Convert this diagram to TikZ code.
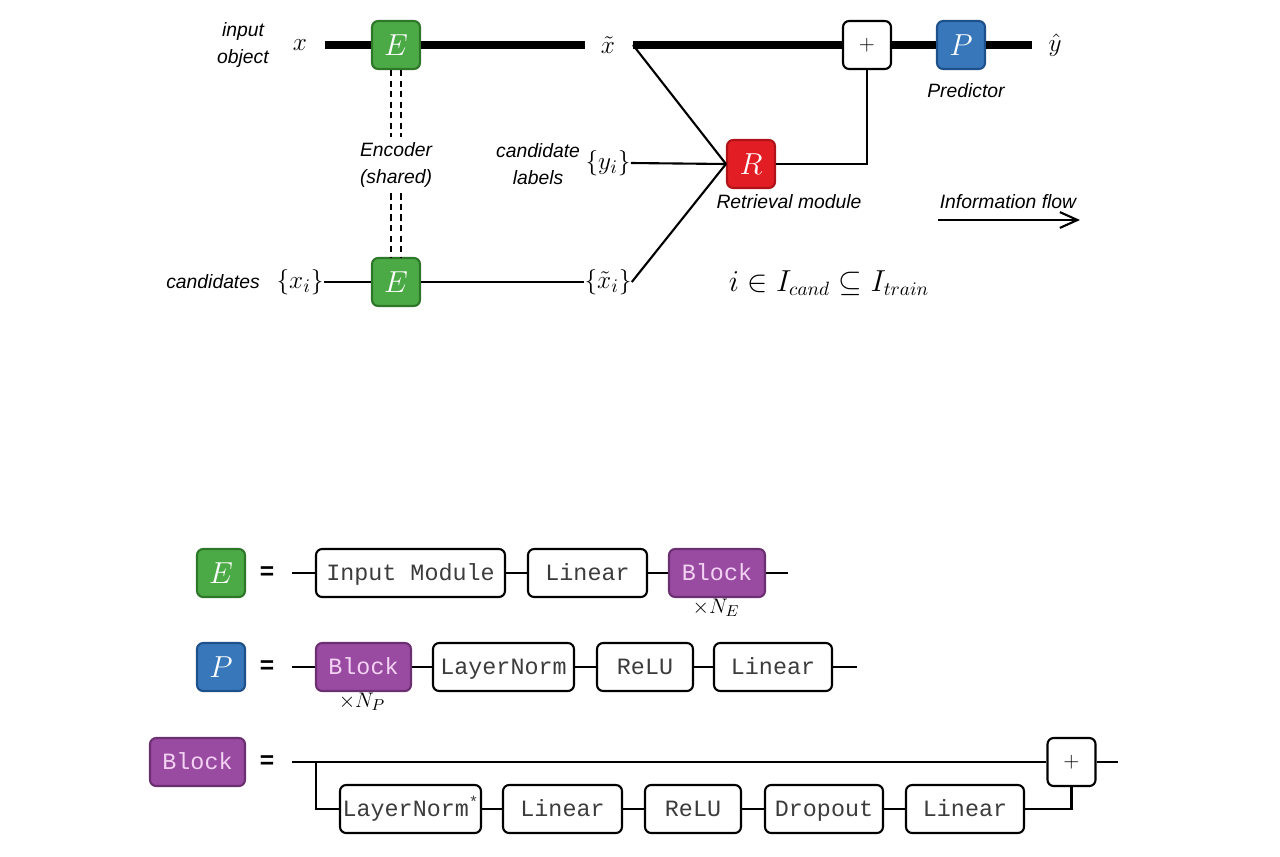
\documentclass[tikz,border=0pt]{standalone}
\usepackage{fontspec}
\setmainfont{Liberation Sans}
\setmonofont{Liberation Mono}
\usetikzlibrary{positioning,arrows.meta}
\definecolor{encgreen}{RGB}{76,170,70}
\definecolor{encgreenline}{RGB}{46,118,40}
\definecolor{predblue}{RGB}{56,120,186}
\definecolor{predblueline}{RGB}{30,80,140}
\definecolor{retred}{RGB}{226,30,36}
\definecolor{retredline}{RGB}{176,20,24}
\definecolor{blockpurple}{RGB}{152,75,160}
\definecolor{blockpurpleline}{RGB}{108,48,114}
\definecolor{blocktext}{RGB}{244,210,244}
\definecolor{monogray}{RGB}{60,60,60}

\begin{document}
\begin{tikzpicture}[
  x=0.02cm, y=-0.02cm,
  box/.style={rectangle, rounded corners=3.5pt, line width=1.2pt,
              minimum height=0.96cm, inner sep=0pt},
  letterbox/.style={box, minimum width=0.96cm, text=white, font=\fontsize{16}{18}\selectfont},
  enc/.style={letterbox, draw=encgreenline, fill=encgreen},
  pred/.style={letterbox, draw=predblueline, fill=predblue},
  ret/.style={letterbox, draw=retredline, fill=retred},
  plusbox/.style={box, draw=black, fill=white, minimum width=0.96cm, font=\fontsize{13}{15}\selectfont},
  layer/.style={box, draw=black, fill=white, text=monogray, text height=8pt, text depth=0pt,
                font=\fontsize{13.3}{15}\ttfamily},
  blk/.style={box, draw=blockpurpleline, fill=blockpurple, text=blocktext, text height=8pt, text depth=0pt,
              font=\fontsize{13.3}{15}\ttfamily},
  lbl/.style={font=\fontsize{11}{15}\itshape, align=center},
  sym/.style={font=\fontsize{15}{17}\selectfont, inner sep=0pt},
  eq/.style={font=\fontsize{14}{16}\bfseries},
  main/.style={line width=4pt},
  wire/.style={line width=1.2pt},
  shared/.style={line width=1.2pt, dash pattern=on 3.5pt off 2.5pt}
]
\useasboundingbox (0,0) rectangle (1280,856);

% top: retrieval model
\node[lbl] (inlbl) at (243,45) {input\\object};
\node[sym] (x) at (300,45) {$x$};
\node[enc] (enctop) at (396,45) {$E$};
\node[sym] (xt) at (608,45) {$\tilde{x}$};
\node[plusbox] (add) at (867,45) {$+$};
\node[pred] (pred) at (961,45) {$P$};
\node[sym] (yhat) at (1055,45) {$\hat{y}$};
\node[lbl] (predlbl) at (966,91) {Predictor};

\node[lbl] (shlbl) at (396,165) {Encoder\\(shared)};
\node[lbl] (cylbl) at (538,164) {candidate\\labels};
\node[sym] (yi) at (608,163) {$\{y_i\}$};
\node[ret] (ret) at (751,164) {$R$};
\node[lbl] (retlbl) at (789,202) {Retrieval module};

\node[lbl, anchor=east] (candlbl) at (266,282) {candidates};
\node[sym] (xi) at (300,282) {$\{x_i\}$};
\node[enc] (encbot) at (396,282) {$E$};
\node[sym] (xti) at (608,282) {$\{\tilde{x}_i\}$};
\node[font=\fontsize{16}{18}\selectfont] (idx) at (829,283) {$i \in I_{cand} \subseteq I_{train}$};

\node[lbl] (flowlbl) at (1008,202) {Information flow};
\coordinate (flowa) at (938,220);
\coordinate (flowb) at (1080,220);

\draw[main] (325,45) -- (enctop) -- (585,45);
\draw[main] (633,45) -- (add) -- (pred) -- (1032,45);
\draw[wire] (633,45) -- (ret.west);
\draw[wire] (yi.east) -- (ret.west);
\draw[wire] (xti.east) -- (ret.west);
\draw[wire] (ret.east) -| (add.south);
\draw[wire] (xi.east) -- (encbot) -- (xti.west);
\draw[shared] ([xshift=-2.8pt]enctop.south) -- ([xshift=-2.8pt]shlbl.north);
\draw[shared] ([xshift=2.8pt]enctop.south) -- ([xshift=2.8pt]shlbl.north);
\draw[shared] ([xshift=-2.8pt]shlbl.south) -- ([xshift=-2.8pt]encbot.north);
\draw[shared] ([xshift=2.8pt]shlbl.south) -- ([xshift=2.8pt]encbot.north);
\draw[wire, -{Straight Barb[length=10pt,width=9pt]}] (flowa) -- (flowb);

% bottom: E, P and Block
\node[enc] (defe) at (221,573) {$E$};
\node[eq] (eqe) at (267,573) {=};
\node[layer, minimum width=3.78cm] (inmod) at (410.5,573) {Input Module};
\node[layer, minimum width=2.38cm] (line1) at (587.5,573) {Linear};
\node[blk, minimum width=1.92cm] (blke) at (717,573) {Block};
\node[font=\fontsize{13}{15}\selectfont] (ne) at (716,608) {$\times N_E$};

\node[pred] (defp) at (221,667) {$P$};
\node[eq] (eqp) at (267,667) {=};
\node[blk, minimum width=1.90cm] (blkp) at (363.5,667) {Block};
\node[layer, minimum width=2.82cm] (lnp) at (503.5,667) {LayerNorm};
\node[layer, minimum width=1.92cm] (relup) at (645,667) {ReLU};
\node[layer, minimum width=2.36cm] (linp) at (773,667) {Linear};
\node[font=\fontsize{13}{15}\selectfont] (np) at (362,702) {$\times N_P$};

\node[blk, minimum width=1.90cm] (defb) at (197.5,762) {Block};
\node[eq] (eqb) at (267,762) {=};
\node[plusbox] (addb) at (1071.5,762) {$+$};
\node[layer, minimum width=2.82cm] (lnb) at (410.5,809) {LayerNorm\raisebox{5pt}{\fontsize{9}{9}\selectfont *}};
\node[layer, minimum width=2.38cm] (linb1) at (562.5,809) {Linear};
\node[layer, minimum width=1.92cm] (relub) at (693,809) {ReLU};
\node[layer, minimum width=2.36cm] (drop) at (824,809) {Dropout};
\node[layer, minimum width=2.36cm] (linb2) at (965,809) {Linear};

\draw[wire] (292,573) -- (inmod) -- (line1) -- (blke) -- (788,573);
\draw[wire] (292,667) -- (blkp) -- (lnp) -- (relup) -- (linp) -- (857,667);
\draw[wire] (292,762) -- (addb) -- (1118,762);
\draw[wire] (316,762) |- (lnb.west);
\draw[wire] (lnb) -- (linb1) -- (relub) -- (drop) -- (linb2);
\draw[wire] (linb2.east) -| (addb.south);
\end{tikzpicture}
\end{document}
